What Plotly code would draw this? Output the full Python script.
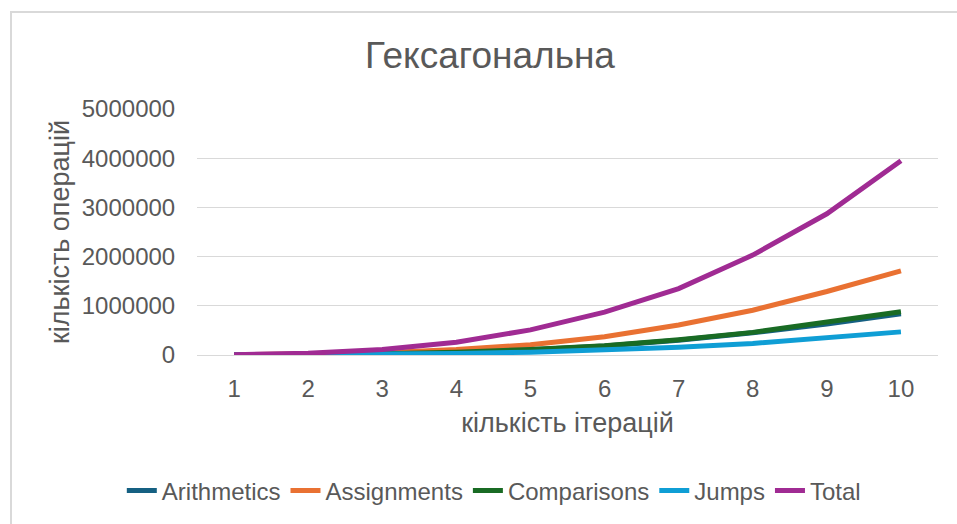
import plotly.graph_objects as go

iterations = [1, 2, 3, 4, 5, 6, 7, 8, 9, 10]
arithmetics = [1000, 7000, 23000, 55000, 105000, 185000, 300000, 450000, 630000, 840000]
assignments = [2000, 13000, 45000, 110000, 210000, 370000, 610000, 910000, 1290000, 1710000]
comparisons = [1000, 8000, 25000, 58000, 110000, 190000, 310000, 460000, 660000, 880000]
jumps = [500, 4000, 13000, 30000, 58000, 100000, 160000, 235000, 340000, 470000]
total = [5000, 35000, 110000, 260000, 510000, 870000, 1350000, 2030000, 2870000, 3950000]

series = [
    ("Arithmetics", arithmetics, "#156082"),
    ("Assignments", assignments, "#E97132"),
    ("Comparisons", comparisons, "#196B24"),
    ("Jumps", jumps, "#0F9ED5"),
    ("Total", total, "#A02B93"),
]

FONT = "Liberation Sans, Arial, sans-serif"
TXT = "#595959"

fig = go.Figure()
for name, vals, col in series:
    fig.add_trace(go.Scatter(
        x=[str(v) for v in iterations], y=vals, name=name, mode="lines",
        line=dict(color=col, width=5),
    ))

fig.update_layout(
    width=957, height=524,
    margin=dict(l=197, r=19, t=109, b=169),
    paper_bgcolor="white", plot_bgcolor="white",
    font=dict(family=FONT, color=TXT, size=24),
    title=dict(text="Гексагональна", x=0.512, xref="container", y=1 - 55 / 524,
               yref="container", xanchor="center", yanchor="middle",
               font=dict(size=37, color=TXT, family=FONT)),
    showlegend=True,
    legend=dict(orientation="h", xref="container", yref="container",
                x=0.516, xanchor="center", y=1 - 491 / 524, yanchor="middle",
                font=dict(size=24, color=TXT, family=FONT),
                itemwidth=30, tracegroupgap=0, bgcolor="rgba(0,0,0,0)"),
    shapes=[dict(type="rect", xref="paper", yref="paper",
                 x0=(11 - 197) / 741, x1=2, y0=-3, y1=(355 - 12) / 246,
                 line=dict(color="#d9d9d9", width=2), fillcolor="rgba(0,0,0,0)",
                 layer="below")],
)

fig.update_xaxes(
    type="category", range=[-0.5, 9.5],
    showgrid=False, showline=False, zeroline=False,
    ticks="outside", ticklen=12, tickcolor="rgba(0,0,0,0)",
    tickfont=dict(size=24, color=TXT, family=FONT),
    title=dict(text="кількість ітерацій", standoff=12,
               font=dict(size=27, color=TXT, family=FONT)),
)
fig.update_yaxes(
    range=[0, 5000000], tickvals=[0, 1000000, 2000000, 3000000, 4000000, 5000000],
    tickformat="d",
    showgrid=True, gridcolor="#d9d9d9", gridwidth=1,
    zeroline=True, zerolinecolor="#d9d9d9", zerolinewidth=1,
    showline=False,
    ticks="outside", ticklen=16, tickcolor="rgba(0,0,0,0)",
    tickfont=dict(size=24, color=TXT, family=FONT),
    title=dict(text="кількість операцій", standoff=4,
               font=dict(size=27, color=TXT, family=FONT)),
)

fig.write_html("out.html", config={"displayModeBar": False},
               post_script="document.body.style.margin='0';document.body.style.overflow='hidden';")
